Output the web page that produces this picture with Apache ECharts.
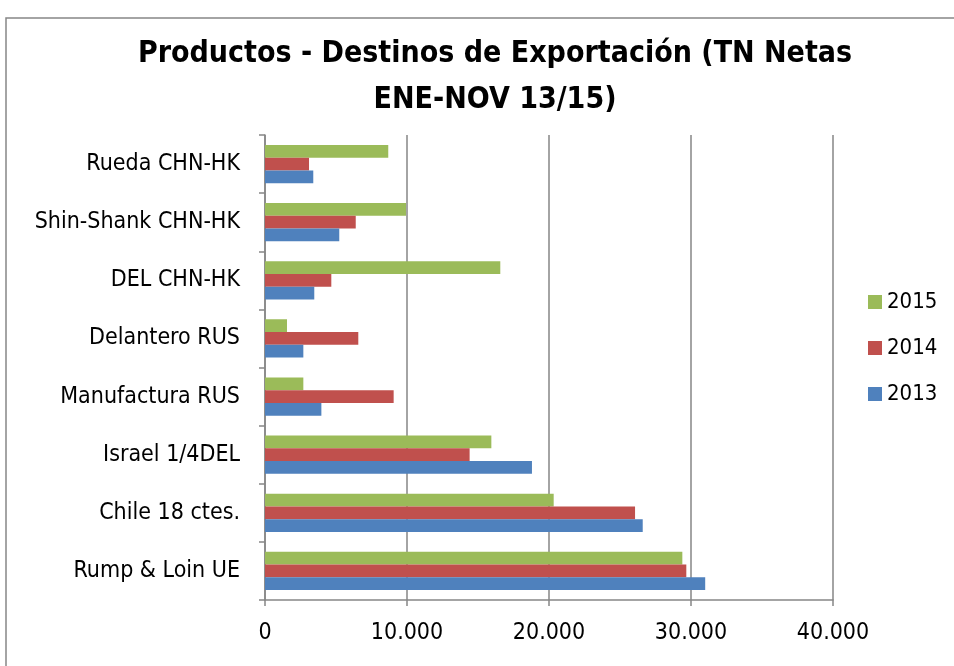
<!DOCTYPE html>
<html>
<head>
<meta charset="utf-8">
<script src="https://cdn.jsdelivr.net/npm/echarts@6/dist/echarts.min.js"></script>
<style>
  html, body { margin: 0; padding: 0; background: #fff; }
  #main { width: 954px; height: 666px; }
</style>
</head>
<body>
<div id="main"></div>
<script>
// categorias (de abajo hacia arriba)
var categories = ['Rump & Loin UE', 'Chile 18 ctes.', 'Israel 1/4DEL', 'Manufactura RUS',
  'Delantero RUS', 'DEL CHN-HK', 'Shin-Shank CHN-HK', 'Rueda CHN-HK'];
var years = ['2015', '2014', '2013'];
var data2013 = [31000, 26600, 18800, 3970, 2700, 3470, 5230, 3400];
var data2014 = [29670, 26060, 14410, 9060, 6570, 4670, 6390, 3100];
var data2015 = [29390, 20330, 15940, 2700, 1550, 16570, 9930, 8680];
var xTicks = [0, 10000, 20000, 30000, 40000];
var colors = ['#9BBB59', '#C0504D', '#4F81BD'];

var chart = echarts.init(document.getElementById('main'), null, { renderer: 'canvas' });

function fmt(v) {
  // separador de miles con punto
  return String(v).replace(/\B(?=(\d{3})+(?!\d))/g, '.');
}

// en barras horizontales la serie 0 queda arriba
var seriesData = [data2015, data2014, data2013];
var axisGray = '#868686';
var labelFont = '"DejaVu Sans Condensed", "Liberation Sans", sans-serif';

var option = {
  backgroundColor: '#fff',
  animation: false,
  color: colors,
  title: {
    text: 'Productos - Destinos de Exportación (TN Netas\nENE-NOV 13/15)',
    left: 490,
    textAlign: 'center',
    top: 26,
    textStyle: {
      fontFamily: labelFont,
      fontWeight: 'bold',
      fontSize: 30,
      lineHeight: 46,
      color: '#000'
    }
  },
  legend: {
    data: ['2015', '2014', '2013'],
    orient: 'vertical',
    left: 863,
    top: 286,
    itemWidth: 14,
    itemHeight: 14,
    itemGap: 24,
    icon: 'rect',
    textStyle: { fontFamily: labelFont, fontSize: 22, color: '#000' }
  },
  grid: { left: 265, right: 121, top: 135, bottom: 66 },
  xAxis: {
    type: 'value',
    min: 0,
    max: 40000,
    interval: 10000,
    axisLine: { show: true, lineStyle: { color: axisGray, width: 1.5 } },
    axisTick: { show: true, length: 6, lineStyle: { color: axisGray, width: 1.5 } },
    splitLine: { show: true, lineStyle: { color: axisGray, width: 1.5 } },
    axisLabel: {
      margin: 22,
      fontFamily: labelFont,
      fontSize: 23,
      color: '#000',
      formatter: function (v) { return xTicks.indexOf(v) >= 0 ? fmt(v) : ''; }
    }
  },
  yAxis: {
    type: 'category',
    data: categories,
    axisLine: { show: true, lineStyle: { color: axisGray, width: 1.5 } },
    axisTick: { show: true, length: 6, lineStyle: { color: axisGray, width: 1.5 } },
    axisLabel: { margin: 25, fontFamily: labelFont, fontSize: 23, color: '#000' }
  },
  series: years.map(function (y, i) {
    return {
      name: y,
      type: 'bar',
      data: seriesData[i],
      barGap: '0%',
      barCategoryGap: '34%',
      itemStyle: { color: colors[i] }
    };
  }),
  graphic: [{
    type: 'rect',
    shape: { x: 6, y: 18, width: 1000, height: 700 },
    style: { fill: 'none', stroke: axisGray, lineWidth: 1.5 },
    silent: true
  }]
};

chart.setOption(option);
</script>
</body>
</html>
